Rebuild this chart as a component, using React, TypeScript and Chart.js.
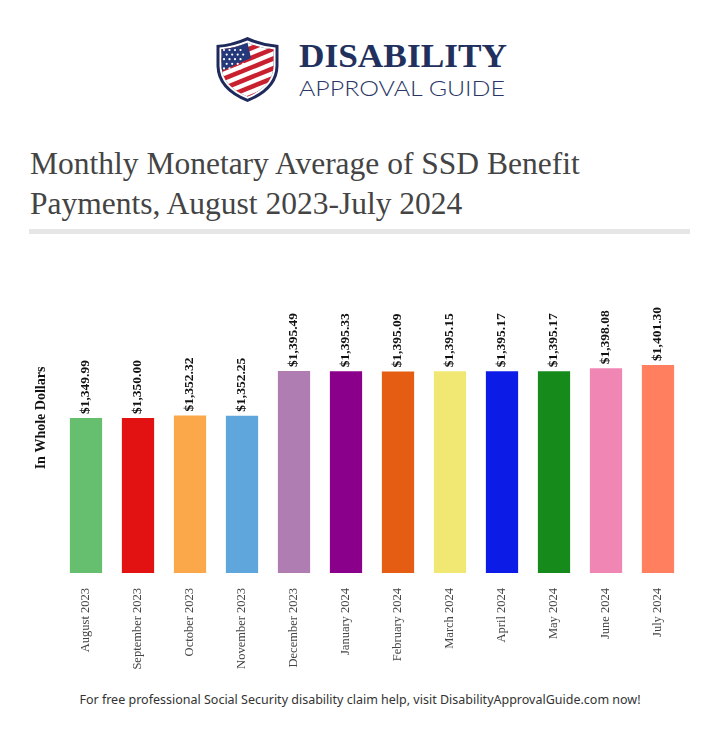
import React, { useEffect, useRef } from "react";
import { Chart, registerables } from "chart.js";

Chart.register(...registerables);

const categories = [
  "August 2023",
  "September 2023",
  "October 2023",
  "November 2023",
  "December 2023",
  "January 2024",
  "February 2024",
  "March 2024",
  "April 2024",
  "May 2024",
  "June 2024",
  "July 2024",
];

const payments = [
  1349.99, 1350.0, 1352.32, 1352.25, 1395.49, 1395.33, 1395.09, 1395.15, 1395.17, 1395.17, 1398.08, 1401.3,
];

const barColors = [
  "#66bf6e",
  "#e31212",
  "#fba84a",
  "#5fa6dc",
  "#b07db2",
  "#8b008b",
  "#e45d12",
  "#f0e873",
  "#0c1ce6",
  "#178a1c",
  "#ef86b4",
  "#ff7f5e",
];

const yMin = 1200;
const yMax = 1500;

const fmt = (v: number) =>
  "$" + v.toLocaleString("en-US", { minimumFractionDigits: 2, maximumFractionDigits: 2 });

const valueLabels = {
  id: "valueLabels",
  afterDatasetsDraw(chart: any) {
    const ctx = chart.ctx;
    const meta = chart.getDatasetMeta(0);
    ctx.save();
    ctx.font = 'bold 13.5px "Liberation Serif", "Times New Roman", serif';
    ctx.fillStyle = "#111";
    ctx.textAlign = "left";
    ctx.textBaseline = "middle";
    meta.data.forEach((bar: any, i: number) => {
      ctx.save();
      ctx.translate(bar.x, bar.y - 4);
      ctx.rotate(-Math.PI / 2);
      ctx.fillText(fmt(payments[i]), 0, 0);
      ctx.restore();
    });
    ctx.restore();
  },
};

function Shield() {
  const outer = "M1.5,9 Q17,8 32.5,1 Q48,8 63.5,9 L63.5,30 Q63,54 32.5,66 Q2,54 1.5,30 Z";
  const mid = "M4.5,11.5 Q18,10.5 32.5,4.5 Q47,10.5 60.5,11.5 L60.5,30 Q60,51.5 32.5,62.8 Q5,51.5 4.5,30 Z";
  const inner = "M6.5,13.3 Q19,12.3 32.5,6.8 Q46,12.3 58.5,13.3 L58.5,30 Q58,50 32.5,60.6 Q7,50 6.5,30 Z";
  const stripes = [];
  for (let i = 0; i < 9; i++) {
    stripes.push(<rect key={i} x={-30} y={-14 + i * 9} width={130} height={4.6} fill="#c8202e" />);
  }
  const stars = [];
  for (let r = 0; r < 5; r++) {
    for (let c = 0; c < 4; c++) {
      stars.push(<circle key={r + "-" + c} cx={9 + c * 5.5 + (r % 2) * 2.7} cy={14 + r * 4.6} r={1.1} fill="#fff" />);
    }
  }
  return (
    <svg width={65} height={67} viewBox="0 0 65 67" style={{ position: "absolute", left: 215, top: 36 }}>
      <defs>
        <clipPath id="shieldInner">
          <path d={inner} />
        </clipPath>
      </defs>
      <path d={outer} fill="#1f2a5c" />
      <path d={mid} fill="#ffffff" />
      <path d={inner} fill="#1f2a5c" />
      <g clipPath="url(#shieldInner)">
        <rect x={0} y={0} width={65} height={67} fill="#ffffff" />
        <g transform="rotate(-22 32 34)">{stripes}</g>
        <path d="M0,0 L31,0 L36,22 L0,38 Z" fill="#24387a" />
        {stars}
      </g>
    </svg>
  );
}

export default function App() {
  const canvasRef = useRef<HTMLCanvasElement | null>(null);

  useEffect(() => {
    if (!canvasRef.current) return;
    const chart = new Chart(canvasRef.current, {
      type: "bar",
      data: {
        labels: categories,
        datasets: [
          {
            data: payments,
            backgroundColor: barColors,
            borderWidth: 0,
            categoryPercentage: 1,
            barPercentage: 0.62,
          },
        ],
      },
      options: {
        responsive: false,
        animation: false,
        layout: { padding: { left: 0, right: 36, top: 23, bottom: 0 } },
        plugins: {
          legend: { display: false },
          tooltip: { enabled: false },
          title: { display: false },
        },
        scales: {
          x: {
            grid: { display: false },
            border: { display: false },
            ticks: {
              autoSkip: false,
              maxRotation: 90,
              minRotation: 90,
              padding: 7,
              color: "#444",
              font: { family: '"Liberation Serif", "Times New Roman", serif', size: 12.5 },
            },
            afterFit: (scale: any) => {
              scale.height = 107;
            },
          },
          y: {
            min: yMin,
            max: yMax,
            grid: { display: false },
            border: { display: false },
            ticks: { display: false },
            title: {
              display: true,
              text: "In Whole Dollars",
              color: "#111",
              padding: { top: 33, bottom: 0 },
              font: { family: '"Liberation Serif", "Times New Roman", serif', size: 14, weight: "bold" },
            },
            afterFit: (scale: any) => {
              scale.width = 60;
            },
          },
        },
      },
      plugins: [valueLabels],
    });
    return () => chart.destroy();
  }, []);

  return (
    <div style={{ position: "absolute", left: 0, top: 0, width: 720, height: 738, background: "#fff", overflow: "hidden" }}>
      <Shield />
      <svg width={230} height={70} style={{ position: "absolute", left: 290, top: 36 }}>
        <text
          x={9}
          y={31}
          textLength={208}
          lengthAdjust="spacingAndGlyphs"
          fill="#22305e"
          style={{ font: 'bold 34px "Liberation Serif", "DejaVu Serif", serif' }}
        >
          DISABILITY
        </text>
        <text
          x={9}
          y={60}
          textLength={206}
          lengthAdjust="spacingAndGlyphs"
          fill="#2a3766"
          style={{ font: '300 21px Lato, "Open Sans", sans-serif' }}
        >
          APPROVAL GUIDE
        </text>
      </svg>
      <div
        style={{
          position: "absolute",
          left: 30,
          top: 144,
          width: 690,
          whiteSpace: "nowrap",
          fontFamily: '"Liberation Serif", "Times New Roman", serif',
          fontSize: 31.5,
          lineHeight: "40px",
          color: "#444",
        }}
      >
        Monthly Monetary Average of SSD Benefit
        <br />
        Payments, August 2023-July 2024
      </div>
      <div style={{ position: "absolute", left: 29, top: 229, width: 661, height: 5, background: "#e6e6e6" }} />
      <canvas
        ref={canvasRef}
        width={720}
        height={440}
        style={{ position: "absolute", left: 0, top: 240, width: 720, height: 440, display: "block" }}
      />
      <div
        style={{
          position: "absolute",
          left: 0,
          top: 691,
          width: 720,
          textAlign: "center",
          fontFamily: '"Noto Sans", "Open Sans", sans-serif',
          fontSize: 12.5,
          color: "#333",
        }}
      >
        For free professional Social Security disability claim help, visit DisabilityApprovalGuide.com now!
      </div>
    </div>
  );
}
